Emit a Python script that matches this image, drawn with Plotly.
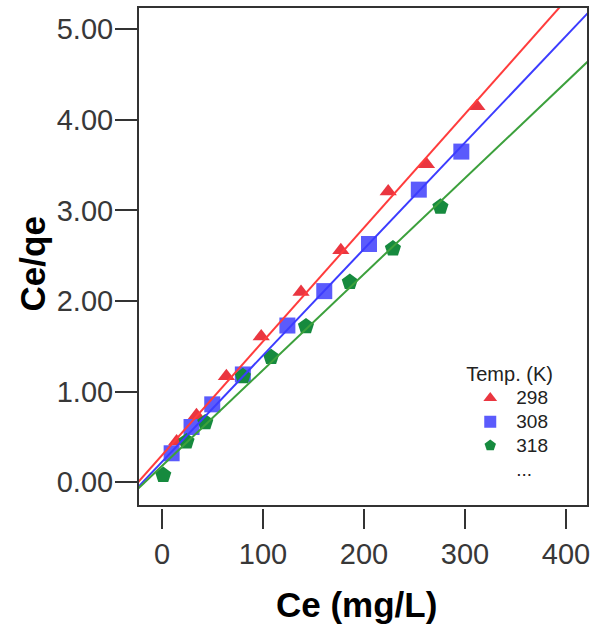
import plotly.graph_objects as go

# ---- data ----
temps = ["298", "308", "318"]
ce_298 = [14.5, 34.2, 63.8, 98.3, 137.7, 177.1, 224.0, 261.9, 311.8]
q_298 = [0.45, 0.74, 1.17, 1.61, 2.10, 2.56, 3.21, 3.51, 4.15]
ce_308 = [9.6, 29.3, 49.8, 80.1, 124.2, 160.7, 205.0, 254.3, 296.4]
q_308 = [0.32, 0.61, 0.86, 1.19, 1.73, 2.11, 2.63, 3.23, 3.65]
ce_318 = [1.3, 24.3, 42.9, 80.1, 108.1, 142.6, 186.0, 228.7, 275.7]
q_318 = [0.08, 0.45, 0.66, 1.17, 1.38, 1.72, 2.21, 2.58, 3.04]
fit_intercept = [0.298, 0.225, 0.180]
fit_slope = [0.01256, 0.01175, 0.01059]
x_ticks = [0, 100, 200, 300, 400]
y_ticks = [0, 1, 2, 3, 4, 5]
x_title = "Ce (mg/L)"
y_title = "Ce/qe"
legend_title = "Temp. (K)"

X_RANGE = [-23.7, 421.8]
Y_RANGE = [-0.262, 5.246]

series_x = [ce_298, ce_308, ce_318]
series_y = [q_298, q_308, q_318]
marker_colors = ["#ea3640", "#5b5bfc", "#168a3e"]
line_colors = ["#ff3c3c", "#3c3cff", "#3ca03c"]
symbols = ["triangle-up", "square", "pentagon"]
sizes = [15, 16, 17]

FONT = "Liberation Sans, Arial, sans-serif"
LEG = '<span style="font-size:19px">%s</span>'

fig = go.Figure()
for i, t in enumerate(temps):
    fig.add_trace(go.Scatter(
        x=series_x[i], y=series_y[i], mode="markers", name=LEG % t,
        marker=dict(symbol=symbols[i], size=sizes[i], color=marker_colors[i],
                    line=dict(width=0)),
    ))
fig.add_trace(go.Scatter(
    x=[None], y=[None], mode="markers", name=LEG % "...",
    marker=dict(color="rgba(0,0,0,0)", size=1),
))
for i, t in enumerate(temps):
    xs = X_RANGE
    ys = [fit_intercept[i] + fit_slope[i] * x for x in xs]
    fig.add_trace(go.Scatter(
        x=xs, y=ys, mode="lines", showlegend=False,
        line=dict(color=line_colors[i], width=2),
    ))

W, H = 595, 632
left, right = 138, 590
top, bottom_frame, bottom_axis = 7, 506, 508
plot_h = bottom_axis - top
plot_w = right - left


def px_x(px):
    return (px - left) / plot_w


def px_y(py):
    return (bottom_axis - py) / plot_h


fig.update_layout(
    width=W, height=H,
    margin=dict(l=left, r=W - right, t=top, b=H - bottom_axis, pad=0),
    paper_bgcolor="white", plot_bgcolor="white",
    font=dict(family=FONT, color="#333333"),
    showlegend=True,
    legend=dict(
        x=0.725, y=0.295, xanchor="left", yanchor="top",
        bgcolor="rgba(0,0,0,0)",
        font=dict(size=16, color="#222222", family=FONT),
        title=dict(text='<span style="font-size:20px">%s</span>' % legend_title,
                   font=dict(size=16, color="#222222", family=FONT)),
        itemsizing="constant", itemwidth=42,
    ),
    xaxis=dict(
        range=X_RANGE, tickvals=x_ticks, ticktext=[str(v) for v in x_ticks],
        showgrid=False, zeroline=False, showline=False,
        ticks="outside", ticklen=20, tickwidth=2, tickcolor="#333333",
        tickfont=dict(size=29, color="#383838", family=FONT),
        anchor="free", position=0,
    ),
    yaxis=dict(
        range=Y_RANGE, tickvals=y_ticks, ticktext=["%.2f" % v for v in y_ticks],
        domain=[(bottom_axis - bottom_frame) / plot_h, 1],
        showgrid=False, zeroline=False, showline=False,
        ticks="outside", ticklen=22, tickwidth=2, tickcolor="#333333",
        tickfont=dict(size=29, color="#383838", family=FONT),
        ticklabelstandoff=-4,
    ),
    shapes=[dict(type="rect", xref="x domain", yref="y domain", x0=0, x1=1, y0=0, y1=1,
                 line=dict(color="#333333", width=2), layer="above")],
    annotations=[
        dict(text="<b>%s</b>" % x_title, xref="paper", yref="paper",
             x=px_x(357), y=px_y(604), xanchor="center", yanchor="middle",
             showarrow=False, font=dict(size=35, color="black", family=FONT)),
        dict(text="<b>%s</b>" % y_title, xref="paper", yref="paper",
             x=px_x(32), y=px_y(264), xanchor="center", yanchor="middle",
             textangle=-90, showarrow=False,
             font=dict(size=35, color="black", family=FONT)),
    ],
)

fig.write_html("out.html")
